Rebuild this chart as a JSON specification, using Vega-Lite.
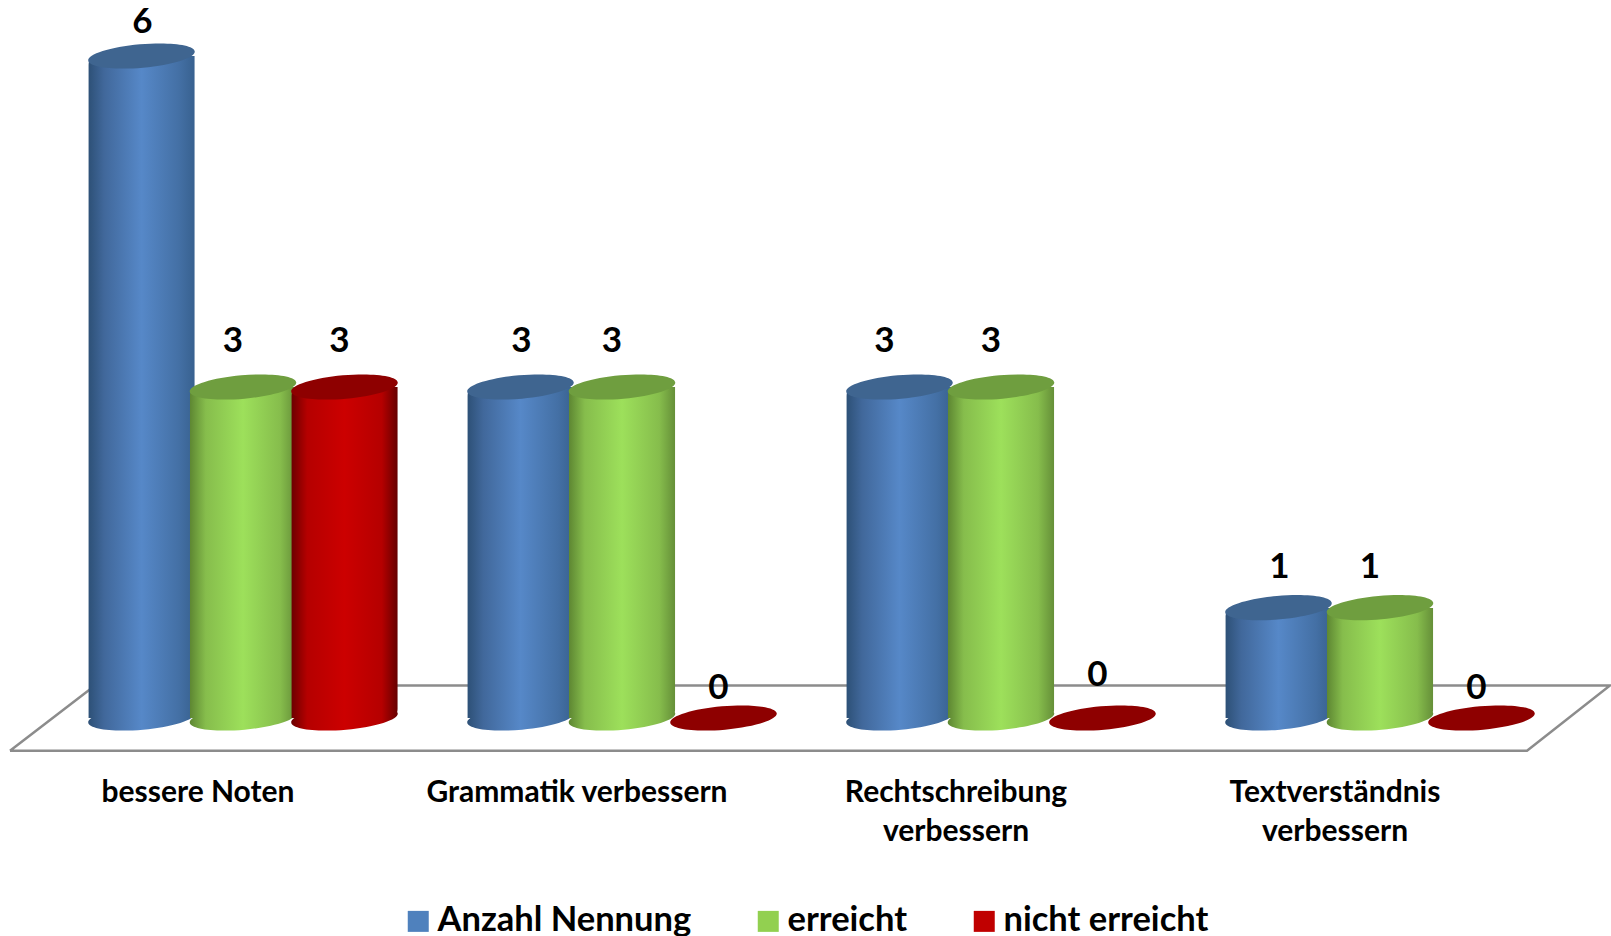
{
"$schema":"https://vega.github.io/schema/vega-lite/v6.json",
"width":1611,"height":750,
"autosize":{"type":"none"},
"padding":{"left":0,"top":0,"right":0,"bottom":186},
"background":"white",
"config":{"view":{"stroke":null}},
"resolve":{"scale":{"x":"independent"}},
"layer":[
{"data":{"values":[{"fx":10,"fy":-0.296,"o":1},{"fx":95,"fy":0.294,"o":2},{"fx":1610,"fy":0.294,"o":3},{"fx":1527,"fy":-0.296,"o":4},{"fx":10,"fy":-0.296,"o":5}]},
 "mark":{"type":"line","stroke":"#8c8c8c","strokeWidth":2.5,"strokeJoin":"miter","clip":false},
 "encoding":{"x":{"field":"fx","type":"quantitative","axis":null,"scale":{"domain":[0,1611],"range":[0,1611],"nice":false,"zero":false}},
 "y":{"field":"fy","type":"quantitative","axis":null,"scale":{"domain":[0,6],"range":[718,56],"nice":false}},
 "order":{"field":"o","type":"quantitative"}}},
{"data":{"values":[
{"category":"bessere Noten","series":"Anzahl Nennung","value":6},
{"category":"bessere Noten","series":"erreicht","value":3},
{"category":"bessere Noten","series":"nicht erreicht","value":3},
{"category":"Grammatik verbessern","series":"Anzahl Nennung","value":3},
{"category":"Grammatik verbessern","series":"erreicht","value":3},
{"category":"Grammatik verbessern","series":"nicht erreicht","value":0},
{"category":"Rechtschreibung verbessern","series":"Anzahl Nennung","value":3},
{"category":"Rechtschreibung verbessern","series":"erreicht","value":3},
{"category":"Rechtschreibung verbessern","series":"nicht erreicht","value":0},
{"category":"Textverständnis verbessern","series":"Anzahl Nennung","value":1},
{"category":"Textverständnis verbessern","series":"erreicht","value":1},
{"category":"Textverständnis verbessern","series":"nicht erreicht","value":0}
]},
"encoding":{
 "x":{"field":"category","type":"nominal","sort":null,"scale":{"domain":["bessere Noten","Grammatik verbessern","Rechtschreibung verbessern","Textverständnis verbessern"],"range":[53.5,1569.5],"paddingInner":0,"paddingOuter":0},
  "axis":{"title":null,"domain":false,"ticks":false,"grid":false,"labelAngle":0,"labelFont":"Lato","labelFontWeight":"bold","labelFontSize":30,"labelColor":"#000000","labelPadding":27,"labelOffset":-45,"labelLimit":0,"labelLineHeight":39,"labelBaseline":"top","labelExpr":"datum.value=='Rechtschreibung verbessern'?['Rechtschreibung','verbessern']:datum.value=='Textverständnis verbessern'?['Textverständnis','verbessern']:datum.value"}},
 "y":{"field":"value","type":"quantitative","axis":null,"scale":{"domain":[0,6],"range":[718,56],"nice":false}}
},
"layer":[
{"mark":{"type":"square","opacity":0,"size":1},
 "encoding":{"color":{"field":"series","type":"nominal","scale":{"domain":["Anzahl Nennung","erreicht","nicht erreicht"],"range":["#4f81bd","#92d050","#c00000"]},
  "legend":{"orient":"none","legendX":401,"legendY":904,"direction":"horizontal","columns":3,"title":null,"symbolType":"square","symbolSize":441,"symbolOpacity":1,"symbolStrokeWidth":0,"labelFont":"Lato","labelFontWeight":"bold","labelFontSize":34.5,"labelColor":"#000000","labelOffset":2,"columnPadding":59,"labelLimit":0,"padding":0}}}},

{"transform":[{"filter":"datum.series=='Anzahl Nennung'"}],"mark":{"type":"point","filled":true,"opacity":1,"xOffset":-101.5,"shape":"M-1,0.09A1,0.22,-5,1,1,1,-0.09A1,0.22,-5,1,1,-1,0.09Z","size":11342,"fill":{"gradient":"linear","x1":0,"y1":0,"x2":1,"y2":0,"stops":[{"offset":0,"color":"#2d5076"},{"offset":0.15,"color":"#41689b"},{"offset":0.5,"color":"#5688c8"},{"offset":0.85,"color":"#4470a5"},{"offset":1,"color":"#38618f"}]}},"encoding":{"y":{"datum":0}}},
{"transform":[{"filter":"datum.series=='Anzahl Nennung'"}],"mark":{"type":"bar","width":106.5,"xOffset":-101.5,"cornerRadiusTopLeft":9,"cornerRadiusBottomRight":9,"fill":{"gradient":"linear","x1":0,"y1":0,"x2":1,"y2":0,"stops":[{"offset":0,"color":"#2d5076"},{"offset":0.15,"color":"#41689b"},{"offset":0.5,"color":"#5688c8"},{"offset":0.85,"color":"#4470a5"},{"offset":1,"color":"#38618f"}]}}},
{"transform":[{"filter":"datum.series=='Anzahl Nennung'"}],"mark":{"type":"point","filled":true,"opacity":1,"xOffset":-101.5,"shape":"M-1,0.09A1,0.22,-5,1,1,1,-0.09A1,0.22,-5,1,1,-1,0.09Z","size":11342,"fill":"#3f6590"}},

{"transform":[{"filter":"datum.series=='erreicht'"}],"mark":{"type":"point","filled":true,"opacity":1,"shape":"M-1,0.09A1,0.22,-5,1,1,1,-0.09A1,0.22,-5,1,1,-1,0.09Z","size":11342,"fill":{"gradient":"linear","x1":0,"y1":0,"x2":1,"y2":0,"stops":[{"offset":0,"color":"#5d8632"},{"offset":0.15,"color":"#86bd4c"},{"offset":0.5,"color":"#9de05b"},{"offset":0.85,"color":"#86bd4c"},{"offset":1,"color":"#658f38"}]}},"encoding":{"y":{"datum":0}}},
{"transform":[{"filter":"datum.series=='erreicht'"}],"mark":{"type":"bar","width":106.5,"cornerRadiusTopLeft":9,"cornerRadiusBottomRight":9,"fill":{"gradient":"linear","x1":0,"y1":0,"x2":1,"y2":0,"stops":[{"offset":0,"color":"#5d8632"},{"offset":0.15,"color":"#86bd4c"},{"offset":0.5,"color":"#9de05b"},{"offset":0.85,"color":"#86bd4c"},{"offset":1,"color":"#658f38"}]}}},
{"transform":[{"filter":"datum.series=='erreicht'"}],"mark":{"type":"point","filled":true,"opacity":1,"shape":"M-1,0.09A1,0.22,-5,1,1,1,-0.09A1,0.22,-5,1,1,-1,0.09Z","size":11342,"fill":"#6f9e3f"}},

{"transform":[{"filter":"datum.series=='nicht erreicht' && datum.value>0"}],"mark":{"type":"point","filled":true,"opacity":1,"xOffset":101.5,"shape":"M-1,0.09A1,0.22,-5,1,1,1,-0.09A1,0.22,-5,1,1,-1,0.09Z","size":11342,"fill":{"gradient":"linear","x1":0,"y1":0,"x2":1,"y2":0,"stops":[{"offset":0,"color":"#6b0000"},{"offset":0.15,"color":"#b50000"},{"offset":0.5,"color":"#cc0000"},{"offset":0.85,"color":"#b50000"},{"offset":1,"color":"#650000"}]}},"encoding":{"y":{"datum":0}}},
{"transform":[{"filter":"datum.series=='nicht erreicht' && datum.value>0"}],"mark":{"type":"bar","width":106.5,"xOffset":101.5,"cornerRadiusTopLeft":9,"cornerRadiusBottomRight":9,"fill":{"gradient":"linear","x1":0,"y1":0,"x2":1,"y2":0,"stops":[{"offset":0,"color":"#6b0000"},{"offset":0.15,"color":"#b50000"},{"offset":0.5,"color":"#cc0000"},{"offset":0.85,"color":"#b50000"},{"offset":1,"color":"#650000"}]}}},
{"transform":[{"filter":"datum.series=='nicht erreicht'"}],"mark":{"type":"point","filled":true,"opacity":1,"xOffset":101.5,"shape":"M-1,0.09A1,0.22,-5,1,1,1,-0.09A1,0.22,-5,1,1,-1,0.09Z","size":11342,"fill":"#8e0000"}},

{"transform":[{"filter":"datum.series=='Anzahl Nennung'"}],"mark":{"type":"text","font":"Lato","fontWeight":"bold","fontSize":35,"color":"#000000","baseline":"middle","xOffset":-101.5,"dx":{"expr":"datum.category[0]=='R'?-15:1"},"dy":{"expr":"datum.value==6?-34:datum.value==3?-46:-41"}},"encoding":{"text":{"field":"value","type":"quantitative"}}},
{"transform":[{"filter":"datum.series=='erreicht'"}],"mark":{"type":"text","font":"Lato","fontWeight":"bold","fontSize":35,"color":"#000000","baseline":"middle","dx":-10,"dy":{"expr":"datum.value==3?-46:-41"}},"encoding":{"text":{"field":"value","type":"quantitative"}}},
{"transform":[{"filter":"datum.series=='nicht erreicht'"}],"mark":{"type":"text","font":"Lato","fontWeight":"bold","fontSize":35,"color":"#000000","baseline":"middle","xOffset":101.5,"dx":-5,"dy":{"expr":"datum.value==3?-46:datum.category[0]=='R'?-43:-30"}},"encoding":{"text":{"field":"value","type":"quantitative"}}}
]}
]
}
